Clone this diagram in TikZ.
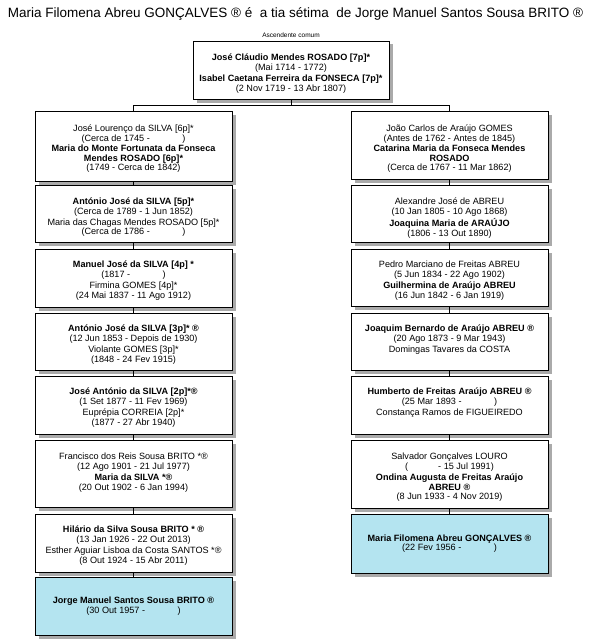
\documentclass[tikz,border=0pt]{standalone}
\usepackage{fontspec}
\setmainfont{Liberation Sans}
\usetikzlibrary{shadows}
\definecolor{boxblue}{RGB}{180,228,240}
\definecolor{shadowgray}{RGB}{170,170,170}
\newcommand\blankdate{\hspace{30pt}}
\begin{document}
\begin{tikzpicture}[x=1pt,y=-1pt,
  box/.style={draw=black, line width=0.9pt, fill=white, inner sep=0pt,
    minimum width=197pt,
    drop shadow={shadow xshift=3.5pt, shadow yshift=-3.5pt, fill=shadowgray, opacity=1}},
  bluebox/.style={box, fill=boxblue},
  txt/.style={align=center, font=\fontsize{9.1}{9.6}\selectfont, inner sep=0pt, anchor=north},
  conn/.style={draw=black, line width=0.9pt}]
\useasboundingbox (0,0) rectangle (590,642);
\fill[white] (0,0) rectangle (590,642);

\node[font=\fontsize{13.5}{15}\selectfont, inner sep=0pt] (title) at (295.5,14)
  {Maria Filomena Abreu GONÇALVES ® é\ \ a tia sétima\ \ de Jorge Manuel Santos Sousa BRITO ®};
\node[font=\fontsize{6.5}{7}\selectfont, inner sep=0pt] (asc) at (291,35) {Ascendente comum};

% top box
\node[box, minimum width=196pt, minimum height=58pt] (top) at (291,70) {};
\node[txt] (ttop) at ([yshift=-13.5pt]top.north)
  {\textbf{José Cláudio Mendes ROSADO [7p]*}\\(Mai 1714 - 1772)\\[1.5pt]
   \textbf{Isabel Caetana Ferreira da FONSECA [7p]*}\\(2 Nov 1719 - 13 Abr 1807)};

% left column
\node[box, minimum height=70pt] (l1) at (133.5,146) {};
\node[box, minimum height=57pt] (l2) at (133.5,213.5) {};
\node[box, minimum height=58pt] (l3) at (133.5,278) {};
\node[box, minimum height=57pt] (l4) at (133.5,341.5) {};
\node[box, minimum height=58pt] (l5) at (133.5,405) {};
\node[box, minimum height=67pt] (l6) at (133.5,473.5) {};
\node[box, minimum height=58pt] (l7) at (133.5,543) {};
\node[bluebox, minimum height=58pt] (l8) at (133.5,606) {};

% right column
\node[box, minimum height=68pt] (r1) at (449.5,145) {};
\node[box, minimum height=57pt] (r2) at (449.5,213.5) {};
\node[box, minimum height=57pt] (r3) at (449.5,277.5) {};
\node[box, minimum height=57pt] (r4) at (449.5,341.5) {};
\node[box, minimum height=58pt] (r5) at (449.5,405) {};
\node[box, minimum height=68pt] (r6) at (449.5,474) {};
\node[bluebox, minimum height=59pt] (r7) at (449.5,543.5) {};

% texts left
\node[txt] (tl1) at ([yshift=-14pt]l1.north)
  {José Lourenço da SILVA [6p]*\\(Cerca de 1745 - \blankdate)\\[1pt]
   \textbf{Maria do Monte Fortunata da Fonseca}\\\textbf{Mendes ROSADO [6p]*}\\(1749 - Cerca de 1842)};
\node[txt] (tl2) at ([yshift=-13pt]l2.north)
  {\textbf{António José da SILVA [5p]*}\\(Cerca de 1789 - 1 Jun 1852)\\[1.5pt]
   Maria das Chagas Mendes ROSADO [5p]*\\(Cerca de 1786 - \blankdate)};
\node[txt] (tl3) at ([yshift=-12.5pt]l3.north)
  {\textbf{Manuel José da SILVA [4p] *}\\(1817 - \blankdate)\\[1.5pt]
   Firmina GOMES [4p]*\\(24 Mai 1837 - 11 Ago 1912)};
\node[txt] (tl4) at ([yshift=-12.5pt]l4.north)
  {\textbf{António José da SILVA [3p]* ®}\\(12 Jun 1853 - Depois de 1930)\\[1.5pt]
   Violante GOMES [3p]*\\(1848 - 24 Fev 1915)};
\node[txt] (tl5) at ([yshift=-12.5pt]l5.north)
  {\textbf{José António da SILVA [2p]*®}\\(1 Set 1877 - 11 Fev 1969)\\[1.5pt]
   Euprépia CORREIA [2p]*\\(1877 - 27 Abr 1940)};
\node[txt] (tl6) at ([yshift=-13.5pt]l6.north)
  {Francisco dos Reis Sousa BRITO *®\\(12 Ago 1901 - 21 Jul 1977)\\[1.5pt]
   \textbf{Maria da SILVA *®}\\(20 Out 1902 - 6 Jan 1994)};
\node[txt] (tl7) at ([yshift=-12.5pt]l7.north)
  {\textbf{Hilário da Silva Sousa BRITO * ®}\\(13 Jan 1926 - 22 Out 2013)\\[1.5pt]
   Esther Aguiar Lisboa da Costa SANTOS *®\\(8 Out 1924 - 15 Abr 2011)};
\node[txt, anchor=center] (tl8) at (l8.center)
  {\textbf{Jorge Manuel Santos Sousa BRITO ®}\\(30 Out 1957 - \blankdate)};

% texts right
\node[txt] (tr1) at ([yshift=-14pt]r1.north)
  {João Carlos de Araújo GOMES\\(Antes de 1762 - Antes de 1845)\\[1pt]
   \textbf{Catarina Maria da Fonseca Mendes}\\\textbf{ROSADO}\\(Cerca de 1767 - 11 Mar 1862)};
\node[txt] (tr2) at ([yshift=-13pt]r2.north)
  {Alexandre José de ABREU\\(10 Jan 1805 - 10 Ago 1868)\\[1.5pt]
   \textbf{Joaquina Maria de ARAÚJO}\\(1806 - 13 Out 1890)};
\node[txt] (tr3) at ([yshift=-12.5pt]r3.north)
  {Pedro Marciano de Freitas ABREU\\(5 Jun 1834 - 22 Ago 1902)\\[1.5pt]
   \textbf{Guilhermina de Araújo ABREU}\\(16 Jun 1842 - 6 Jan 1919)};
\node[txt] (tr4) at ([yshift=-12.5pt]r4.north)
  {\textbf{Joaquim Bernardo de Araújo ABREU ®}\\(20 Ago 1873 - 9 Mar 1943)\\[1.5pt]
   Domingas Tavares da COSTA};
\node[txt] (tr5) at ([yshift=-12.5pt]r5.north)
  {\textbf{Humberto de Freitas Araújo ABREU ®}\\(25 Mar 1893 - \blankdate)\\[1.5pt]
   Constança Ramos de FIGUEIREDO};
\node[txt] (tr6) at ([yshift=-13.5pt]r6.north)
  {Salvador Gonçalves LOURO\\(\blankdate - 15 Jul 1991)\\[1.5pt]
   \textbf{Ondina Augusta de Freitas Araújo}\\\textbf{ABREU ®}\\(8 Jun 1933 - 4 Nov 2019)};
\node[txt, anchor=center] (tr7) at (r7.center)
  {\textbf{Maria Filomena Abreu GONÇALVES ®}\\(22 Fev 1956 - \blankdate)};

% connectors
\coordinate (j) at (291,105);
\draw[conn] (top.south) -- (j);
\draw[conn] (j) -| (l1.north);
\draw[conn] (j) -| (r1.north);
\foreach \a/\b in {l1/l2,l2/l3,l3/l4,l4/l5,l5/l6,l6/l7,l7/l8,r1/r2,r2/r3,r3/r4,r4/r5,r5/r6,r6/r7}
  \draw[conn] (\a.south) -- (\b.north);
\end{tikzpicture}
\end{document}
